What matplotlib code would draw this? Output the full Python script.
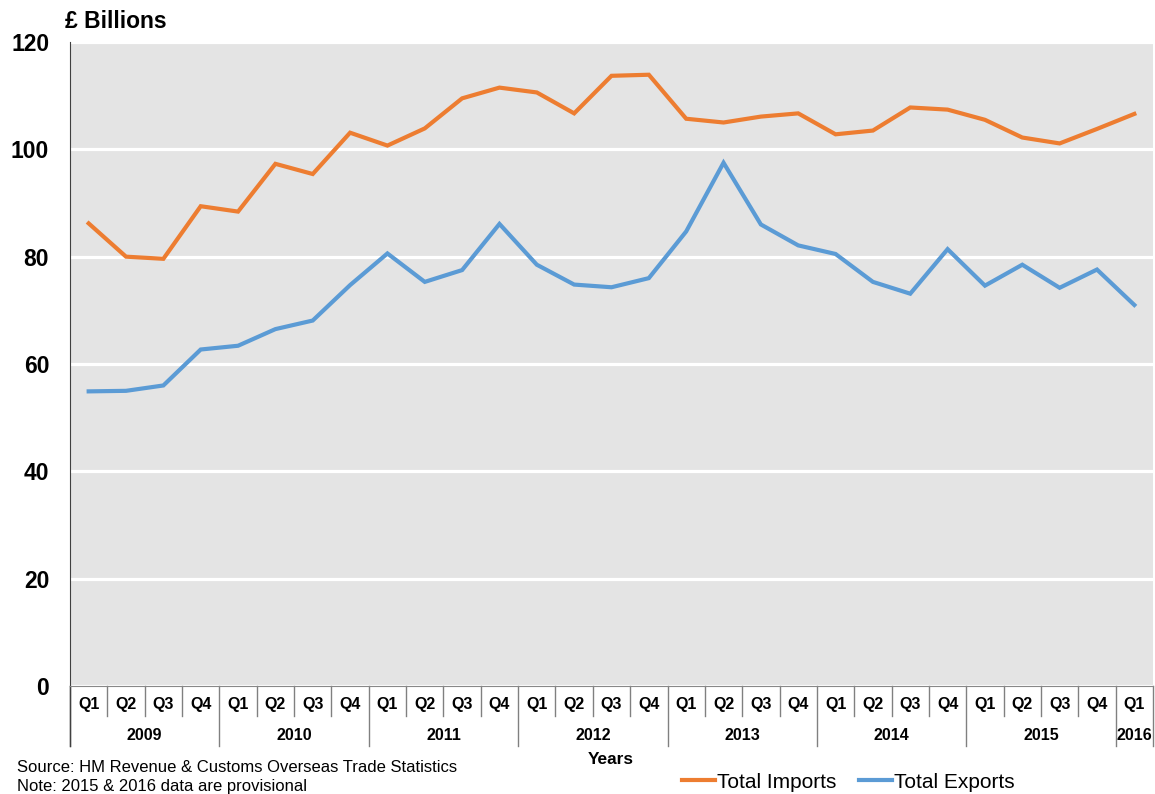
import matplotlib.pyplot as plt
import matplotlib.transforms as mtransforms

plt.rcParams['font.family'] = ['Liberation Sans', 'DejaVu Sans']

# Quarterly UK trade, 2009 Q1 - 2016 Q1 (£ billions)
years = ['2009', '2010', '2011', '2012', '2013', '2014', '2015', '2016']
quarters = ['Q1', 'Q2', 'Q3', 'Q4'] * 7 + ['Q1']

imports = [86.2, 80.0, 79.6, 89.4, 88.4, 97.3, 95.4, 103.1,
           100.7, 103.9, 109.5, 111.5, 110.6, 106.7, 113.7, 113.9,
           105.7, 105.0, 106.1, 106.7, 102.8, 103.5, 107.8, 107.4,
           105.5, 102.2, 101.1, 103.8, 106.6]
exports = [54.9, 55.0, 56.0, 62.7, 63.4, 66.5, 68.1, 74.7,
           80.6, 75.3, 77.5, 86.1, 78.5, 74.8, 74.3, 76.0,
           84.7, 97.5, 86.0, 82.1, 80.5, 75.3, 73.1, 81.4,
           74.6, 78.5, 74.2, 77.6, 71.0]

fig = plt.figure(figsize=(11.55, 7.94), dpi=100)
ax = fig.add_axes([70 / 1155, 1 - 686 / 794, 1083 / 1155, 644 / 794])
ax.set_facecolor('#e4e4e4')

x = list(range(len(quarters)))
ax.plot(x, imports, color='#ED7D31', lw=3, label='Total Imports', solid_joinstyle='miter')
ax.plot(x, exports, color='#5B9BD5', lw=3, label='Total Exports', solid_joinstyle='miter')

ax.set_xlim(-0.5, len(quarters) - 0.5)
ax.set_ylim(0, 120)
ax.set_yticks(range(0, 121, 20))
ax.yaxis.grid(True, color='white', lw=2.3)
ax.set_axisbelow(True)
ax.tick_params(axis='y', length=0, pad=15, labelsize=16.5)
for lab in ax.get_yticklabels():
    lab.set_fontweight('bold')
ax.set_xticks([])

for s in ['top', 'right']:
    ax.spines[s].set_visible(False)
ax.spines['left'].set_color('#404040')
ax.spines['bottom'].set_color('#888888')

# two-level category axis
trans = mtransforms.blended_transform_factory(ax.transData, ax.transAxes)
h = 1 / 644
for i, q in enumerate(quarters):
    ax.text(i, -19 * h, q, transform=trans, ha='center', va='center',
            fontsize=11.5, fontweight='bold')
for i in range(len(quarters) + 1):
    end = -60 * h if i % 4 == 0 or i == len(quarters) else -30 * h
    ax.plot([i - 0.5, i - 0.5], [0, end], transform=trans, color='#808080',
            lw=1, clip_on=False)
ax.plot([-0.5, -0.5], [0, -60 * h], transform=trans, color='#404040', lw=1, clip_on=False)
for k, yr in enumerate(years):
    start = 4 * k
    stop = min(4 * k + 3, len(quarters) - 1)
    ax.text((start + stop) / 2, -49 * h, yr, transform=trans, ha='center',
            va='center', fontsize=11.5, fontweight='bold')

fig.text(65 / 1155, 1 - 22 / 794, '£ Billions', fontsize=16.5, fontweight='bold',
         ha='left', va='center')
fig.text(611 / 1155, 1 - 760 / 794, 'Years', fontsize=12.4, fontweight='bold',
         ha='center', va='center')
fig.text(17 / 1155, 1 - 767 / 794, 'Source: HM Revenue & Customs Overseas Trade Statistics',
         fontsize=12, ha='left', va='center')
fig.text(17 / 1155, 1 - 786 / 794, 'Note: 2015 & 2016 data are provisional',
         fontsize=12, ha='left', va='center')

fig.legend(loc='center', bbox_to_anchor=(848 / 1155, 1 - 782 / 794), ncol=2,
           frameon=False, fontsize=15, handlelength=1.6, handletextpad=0.08,
           columnspacing=1.1)

plt.savefig('out.png', dpi=100)
